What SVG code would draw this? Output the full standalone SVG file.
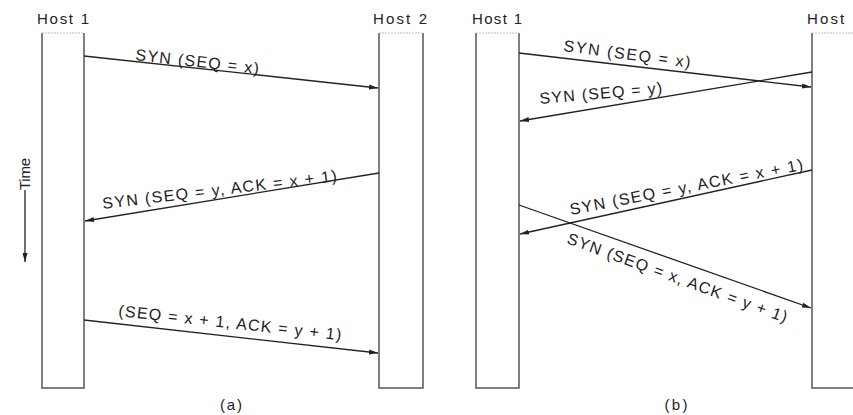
<svg xmlns="http://www.w3.org/2000/svg" width="853" height="415" viewBox="0 0 853 415">
<style>
.box{fill:none;stroke:#555;stroke-width:1.5}
.top{stroke:#bbb;stroke-width:1;stroke-dasharray:2 1}
.msg{stroke:#222;stroke-width:1.3;fill:none;marker-end:url(#ah)}
.t{font-family:"Liberation Sans",Arial,sans-serif;font-size:16px;fill:#222}
.h{font-family:"Liberation Sans",Arial,sans-serif;font-size:15px;fill:#222}
</style>
<defs>
<marker id="ah" markerUnits="userSpaceOnUse" markerWidth="10" markerHeight="6" refX="9" refY="3" orient="auto">
<path d="M0,0.5 L9,3 L0,5.5 z" fill="#222"/>
</marker>
</defs>
<rect width="853" height="415" fill="#fff"/>
<g id="a-host1">
<path class="box" d="M42,33 V388 H84 V33"/>
<line class="top" x1="42" y1="33" x2="84" y2="33"/>
<text class="h" x="37" y="24" textLength="52" lengthAdjust="spacing">Host 1</text>
</g>
<g id="a-host2">
<path class="box" d="M379,33 V388 H423 V33"/>
<line class="top" x1="379" y1="33" x2="423" y2="33"/>
<text class="h" x="373" y="24" textLength="54" lengthAdjust="spacing">Host 2</text>
</g>
<g id="b-host1">
<path class="box" d="M476,33 V388 H519 V33"/>
<line class="top" x1="476" y1="33" x2="519" y2="33"/>
<text class="h" x="472" y="24" textLength="50" lengthAdjust="spacing">Host 1</text>
</g>
<g id="b-host2">
<path class="box" d="M812,33 V388 H870"/>
<line class="top" x1="812" y1="33" x2="853" y2="33"/>
<text class="h" x="807" y="24" textLength="54" lengthAdjust="spacing">Host 2</text>
</g>
<g id="time">
<text class="h" transform="translate(30,174) rotate(-90)" text-anchor="middle" font-size="14" textLength="32" lengthAdjust="spacing">Time</text>
<line x1="25" y1="190" x2="25" y2="262" stroke="#222" stroke-width="1.3" marker-end="url(#ah)"/>
</g>
<g id="connectors">
<line class="msg" x1="84" y1="56" x2="378" y2="88"/>
<line class="msg" x1="379" y1="173" x2="85" y2="221"/>
<line class="msg" x1="84" y1="320" x2="378" y2="353"/>
<line class="msg" x1="519" y1="53" x2="811" y2="87"/>
<line class="msg" x1="812" y1="72" x2="520" y2="121"/>
<line class="msg" x1="812" y1="170" x2="520" y2="234"/>
<line class="msg" x1="519" y1="205" x2="811" y2="308"/>
</g>
<g id="labels">
<text class="t" transform="translate(135,60) rotate(6.4)" textLength="124" lengthAdjust="spacing">SYN (SEQ = x)</text>
<text class="t" transform="translate(103,209) rotate(-6.8)" textLength="236" lengthAdjust="spacing">SYN (SEQ = y, ACK = x + 1)</text>
<text class="t" transform="translate(118,316) rotate(6.2)" textLength="224" lengthAdjust="spacing">(SEQ = x + 1, ACK = y + 1)</text>
<text class="t" transform="translate(563,51) rotate(7.5)" textLength="128" lengthAdjust="spacing">SYN (SEQ = x)</text>
<text class="t" transform="translate(540,104) rotate(-5)" textLength="123" lengthAdjust="spacing">SYN (SEQ = y)</text>
<text class="t" transform="translate(571,215) rotate(-11)" textLength="237" lengthAdjust="spacing">SYN (SEQ = y, ACK = x + 1)</text>
<text class="t" transform="translate(566,243) rotate(20)" textLength="233" lengthAdjust="spacing">SYN (SEQ = x, ACK = y + 1)</text>
<text class="h" x="231" y="410" text-anchor="middle" textLength="22" lengthAdjust="spacing">(a)</text>
<text class="h" x="676" y="410" text-anchor="middle" textLength="23" lengthAdjust="spacing">(b)</text>
</g>
</svg>
